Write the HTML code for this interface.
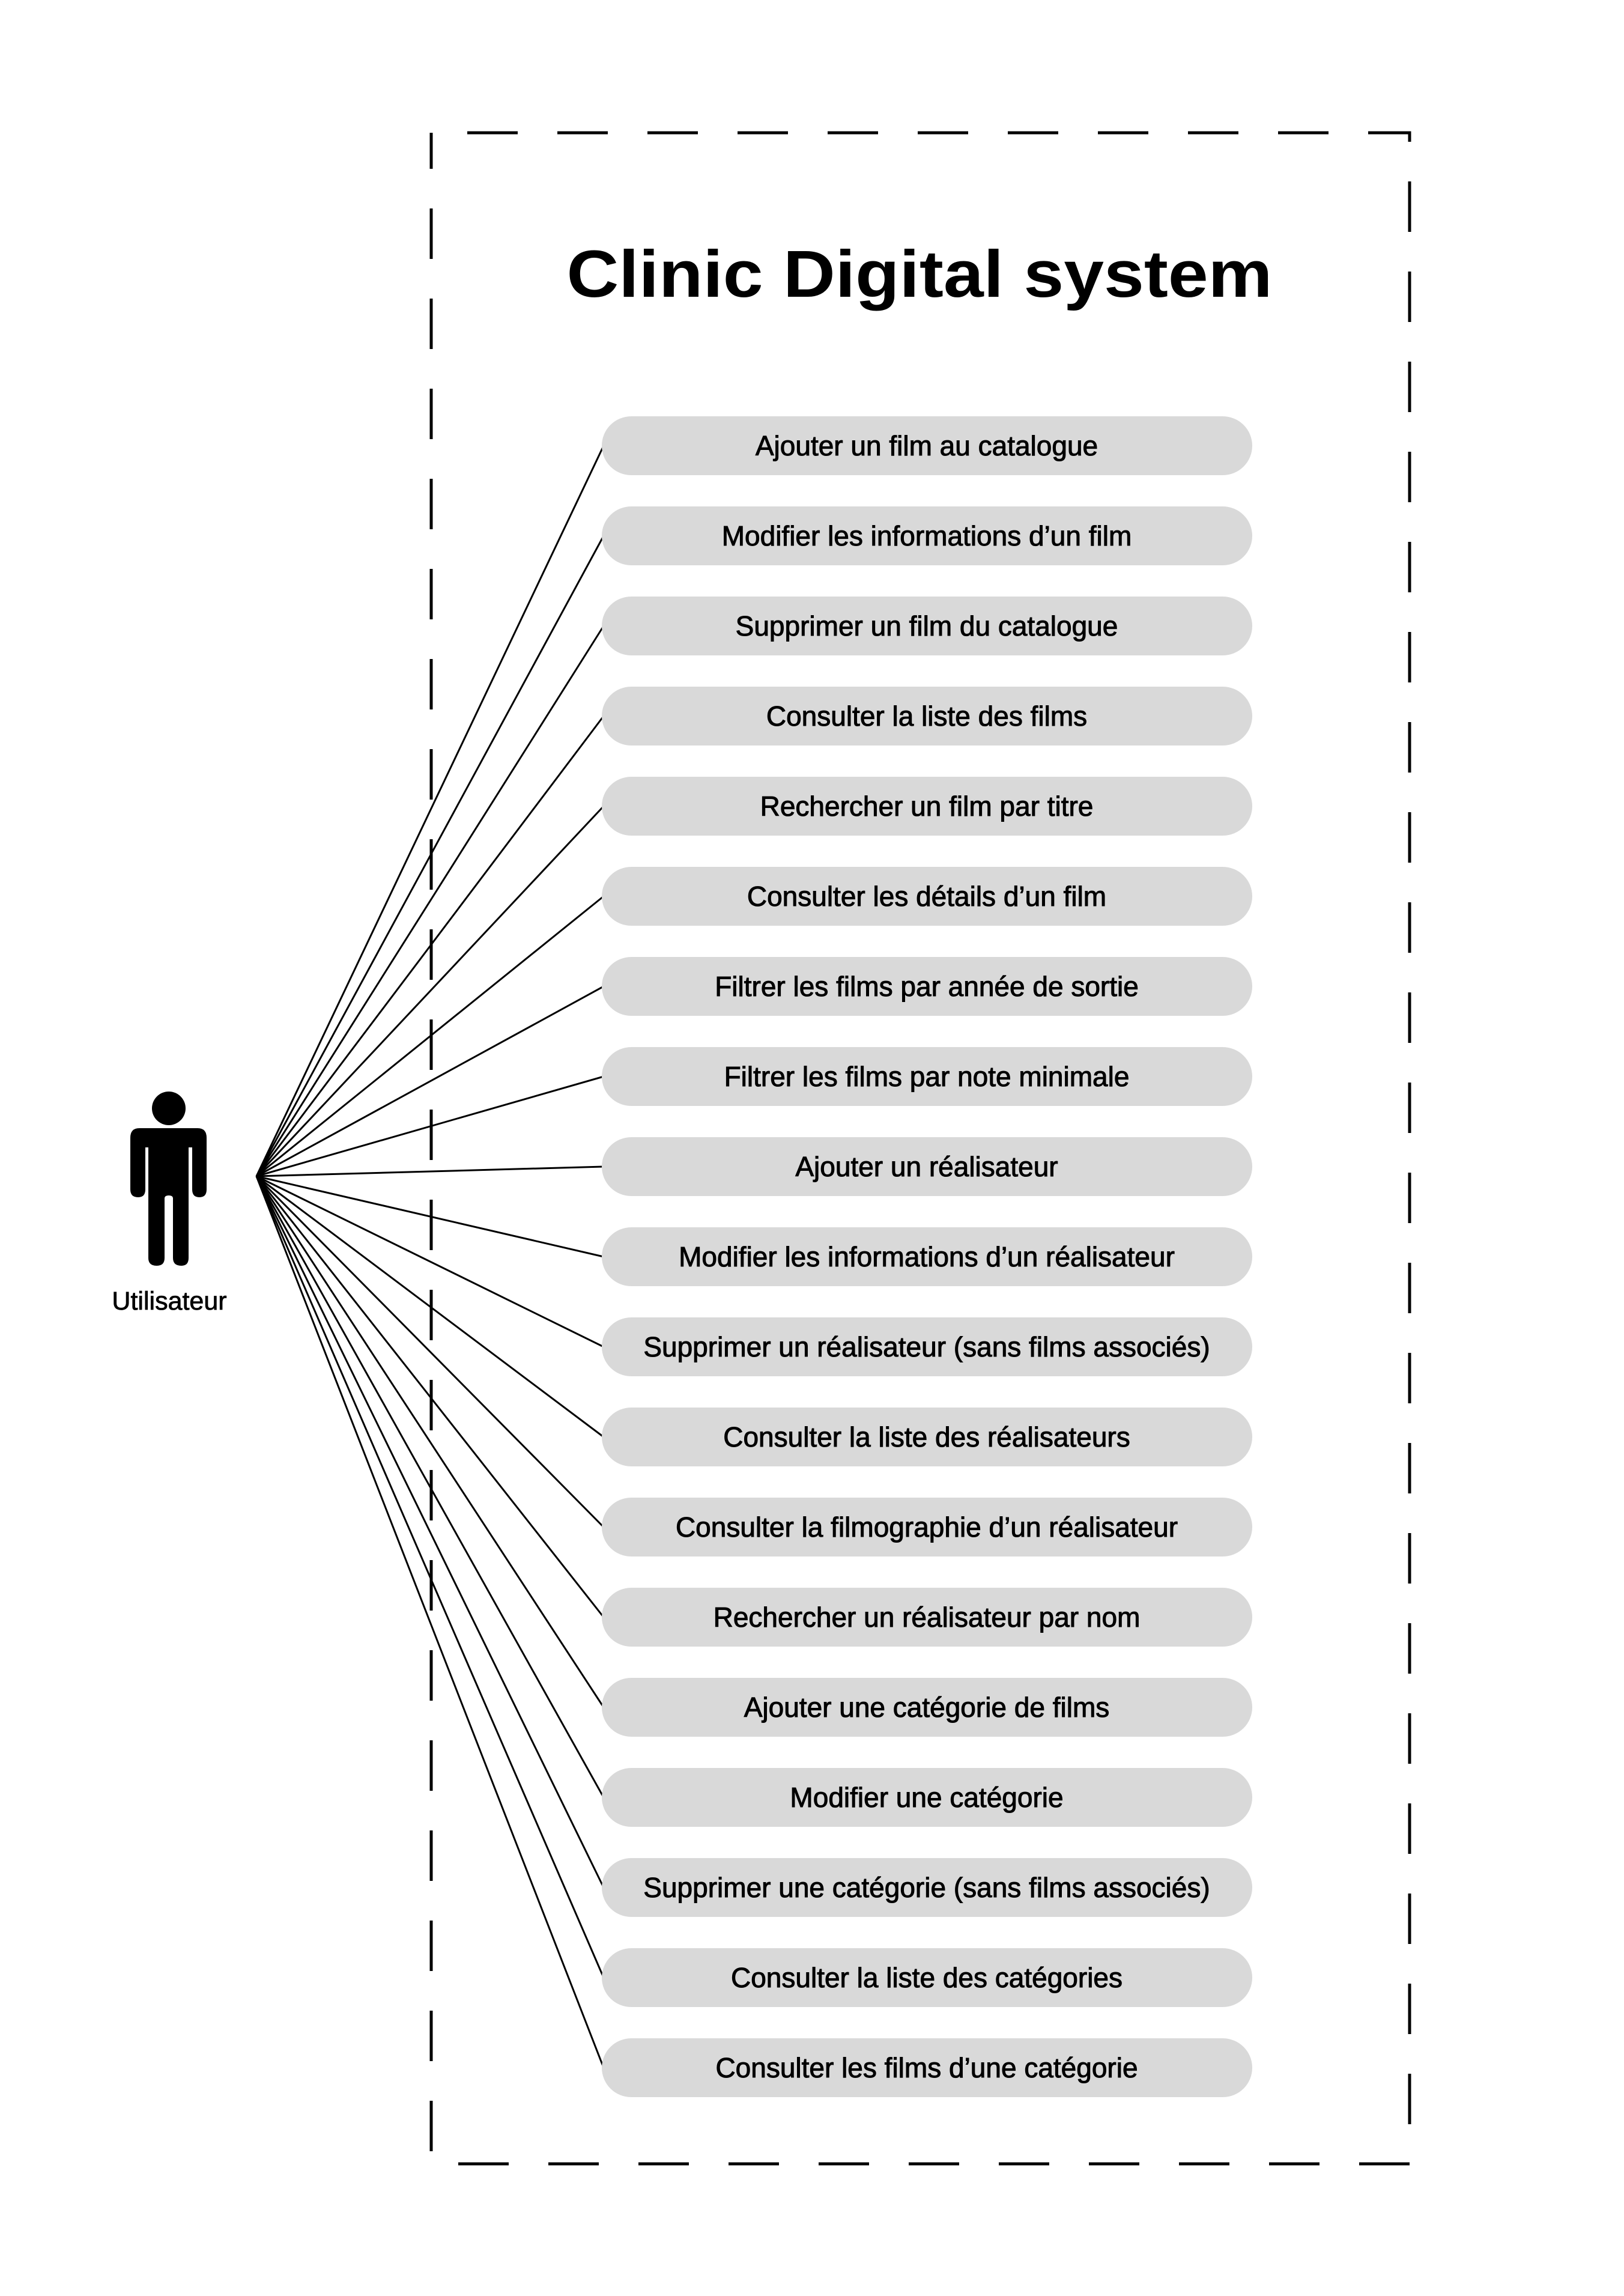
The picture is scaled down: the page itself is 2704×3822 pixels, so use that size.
<!DOCTYPE html>
<html><head><meta charset="utf-8"><style>html,body{margin:0;padding:0;background:#fff}svg{display:block}</style></head>
<body>
<svg width="2704" height="3822" viewBox="0 0 2704 3822" xmlns="http://www.w3.org/2000/svg">
<rect x="0" y="0" width="2704" height="3822" fill="#fff"/>
<rect x="718" y="221" width="1629" height="3381" fill="none" stroke="#000" stroke-width="5" stroke-dasharray="84 66" stroke-dashoffset="-60"/>
<text x="1531" y="494" text-anchor="middle" font-family="Liberation Sans, sans-serif" font-size="110" font-weight="bold" textLength="1175" lengthAdjust="spacingAndGlyphs">Clinic Digital system</text>
<g stroke="#000" stroke-width="3" id="lines"></g>
<g id="pills" font-family="Liberation Sans, sans-serif" font-size="46" text-anchor="middle"></g>
<g fill="#000">
<ellipse cx="281" cy="1845" rx="28" ry="28"/>
<path d="M232 1878 H329 Q344 1878 344 1894 V1980 Q344 1993 332 1993 Q320 1993 320 1980 V1910 H314 V2094 Q314 2107 302 2107 Q288 2107 288 2094 V1995 Q288 1990 281 1990 Q274 1990 274 1995 V2094 Q274 2107 261 2107 Q247 2107 247 2094 V1910 H242 V1980 Q242 1993 230 1993 Q217 1993 217 1980 V1894 Q217 1878 232 1878 Z"/>
</g>
<text x="282" y="2180" text-anchor="middle" font-family="Liberation Sans, sans-serif" font-size="43" stroke="#000" stroke-width="0.8">Utilisateur</text>
<script>
var labels=["Ajouter un film au catalogue","Modifier les informations d’un film","Supprimer un film du catalogue","Consulter la liste des films","Rechercher un film par titre","Consulter les détails d’un film","Filtrer les films par année de sortie","Filtrer les films par note minimale","Ajouter un réalisateur","Modifier les informations d’un réalisateur","Supprimer un réalisateur (sans films associés)","Consulter la liste des réalisateurs","Consulter la filmographie d’un réalisateur","Rechercher un réalisateur par nom","Ajouter une catégorie de films","Modifier une catégorie","Supprimer une catégorie (sans films associés)","Consulter la liste des catégories","Consulter les films d’une catégorie"];
var NS="http://www.w3.org/2000/svg",L=document.getElementById("lines"),P=document.getElementById("pills");
labels.forEach(function(t,i){var cy=742+i*150;
var l=document.createElementNS(NS,"line");l.setAttribute("x1",427);l.setAttribute("y1",1958);l.setAttribute("x2",1005);l.setAttribute("y2",cy);L.appendChild(l);
var r=document.createElementNS(NS,"rect");r.setAttribute("x",1002);r.setAttribute("y",cy-49);r.setAttribute("width",1083);r.setAttribute("height",98);r.setAttribute("rx",49);r.setAttribute("fill","#d9d9d9");P.appendChild(r);
var tx=document.createElementNS(NS,"text");tx.setAttribute("x",1543);tx.setAttribute("y",cy+16);tx.setAttribute("stroke","#000");tx.setAttribute("stroke-width","1");tx.textContent=t;P.appendChild(tx);});
</script>
</svg>
</body></html>
